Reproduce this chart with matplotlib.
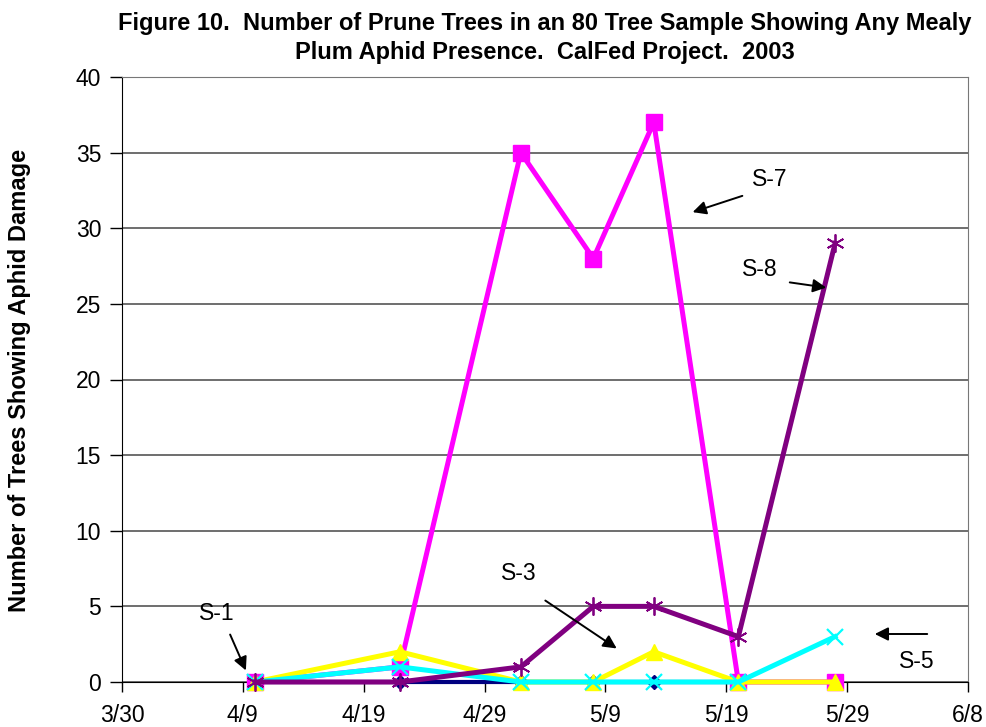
import matplotlib
matplotlib.use("Agg")
import matplotlib.pyplot as plt
import matplotlib.dates as mdates
import datetime as dt

plt.rcParams['font.family'] = ['Liberation Sans', 'DejaVu Sans']

dates = ["2003-04-10", "2003-04-22", "2003-05-02", "2003-05-08",
         "2003-05-13", "2003-05-20", "2003-05-28"]
s1 = [0, 0, 0, 0, 0, 0, 0]
s7 = [0, 1, 35, 28, 37, 0, 0]
s3 = [0, 2, 0, 0, 2, 0, 0]
s5 = [0, 1, 0, 0, 0, 0, 3]
s8 = [0, 0, 1, 5, 5, 3, 29]
tick_dates = ["2003-03-30", "2003-04-09", "2003-04-19", "2003-04-29",
              "2003-05-09", "2003-05-19", "2003-05-29", "2003-06-08"]
tick_labels = ["3/30", "4/9", "4/19", "4/29", "5/9", "5/19", "5/29", "6/8"]
y_ticks = [0, 5, 10, 15, 20, 25, 30, 35, 40]

x = [dt.datetime.strptime(d, "%Y-%m-%d") for d in dates]
xt = [dt.datetime.strptime(d, "%Y-%m-%d") for d in tick_dates]

W, H = 986, 727
fig = plt.figure(figsize=(W/100, H/100), dpi=100)
ax = fig.add_axes([122/W, 1-682/H, (968-122)/W, (682-77)/H])

kw = dict(clip_on=False)
ax.plot(x, s1, color='#000080', lw=3, marker='D', ms=7, zorder=3, **kw)
ax.plot(x, s7, color='#FF00FF', lw=3.6, marker='s', ms=12, zorder=4, **kw)
ax.plot(x, s3, color='#FFFF00', lw=3.6, marker='^', ms=12, zorder=5, **kw)
ax.plot(x, s5, color='#00FFFF', lw=3.6, marker='x', ms=12, mew=1.6, zorder=6, **kw)
ax.plot(x, s8, color='#800080', lw=3.6, marker=(6, 2, 0), ms=13, mew=1.3, zorder=7, **kw)

ax.set_xlim(xt[0], xt[-1])
ax.set_ylim(0, 40)
ax.set_xticks(xt)
ax.set_xticklabels(tick_labels)
ax.set_yticks(y_ticks)
ax.tick_params(axis='both', labelsize=16.5, direction='out', color='black', width=1)
ax.tick_params(axis='x', pad=9, length=7)
ax.tick_params(axis='y', pad=6, length=9)
ax.yaxis.grid(True, color='#555555', lw=1.2)
ax.set_axisbelow(True)
for s in ['top', 'right']:
    ax.spines[s].set_color('#777777')
ax.spines['left'].set_color('black')
ax.spines['bottom'].set_color('black')

fig.text(545/W, 1-38/H, "Figure 10.  Number of Prune Trees in an 80 Tree Sample Showing Any Mealy\nPlum Aphid Presence.  CalFed Project.  2003",
         ha='center', va='center', fontsize=17, fontweight='bold', linespacing=1.3)
fig.text(20/W, 1-380/H, "Number of Trees Showing Aphid Damage", rotation=90,
         ha='center', va='center', fontsize=17, fontweight='bold')

def ann(text, tx, ty, ax0, ay0, ax1, ay1):
    fig.text(tx/W, 1-ty/H, text, ha='center', va='center', fontsize=16.5)
    fig.add_artist(matplotlib.patches.FancyArrowPatch(
        (ax0/W, 1-ay0/H), (ax1/W, 1-ay1/H), transform=fig.transFigure,
        arrowstyle='-|>', mutation_scale=20, color='black', lw=1.4, zorder=10))

ann("S-7", 770, 180, 745, 195, 690, 213)
ann("S-8", 760, 270, 787, 282, 829, 288)
ann("S-3", 519, 573, 543, 599, 619, 650)
ann("S-1", 217, 614, 229, 632, 247, 673)
ann("S-5", 917, 662, 930, 634, 872, 634)

fig.savefig("out.png", dpi=100)
